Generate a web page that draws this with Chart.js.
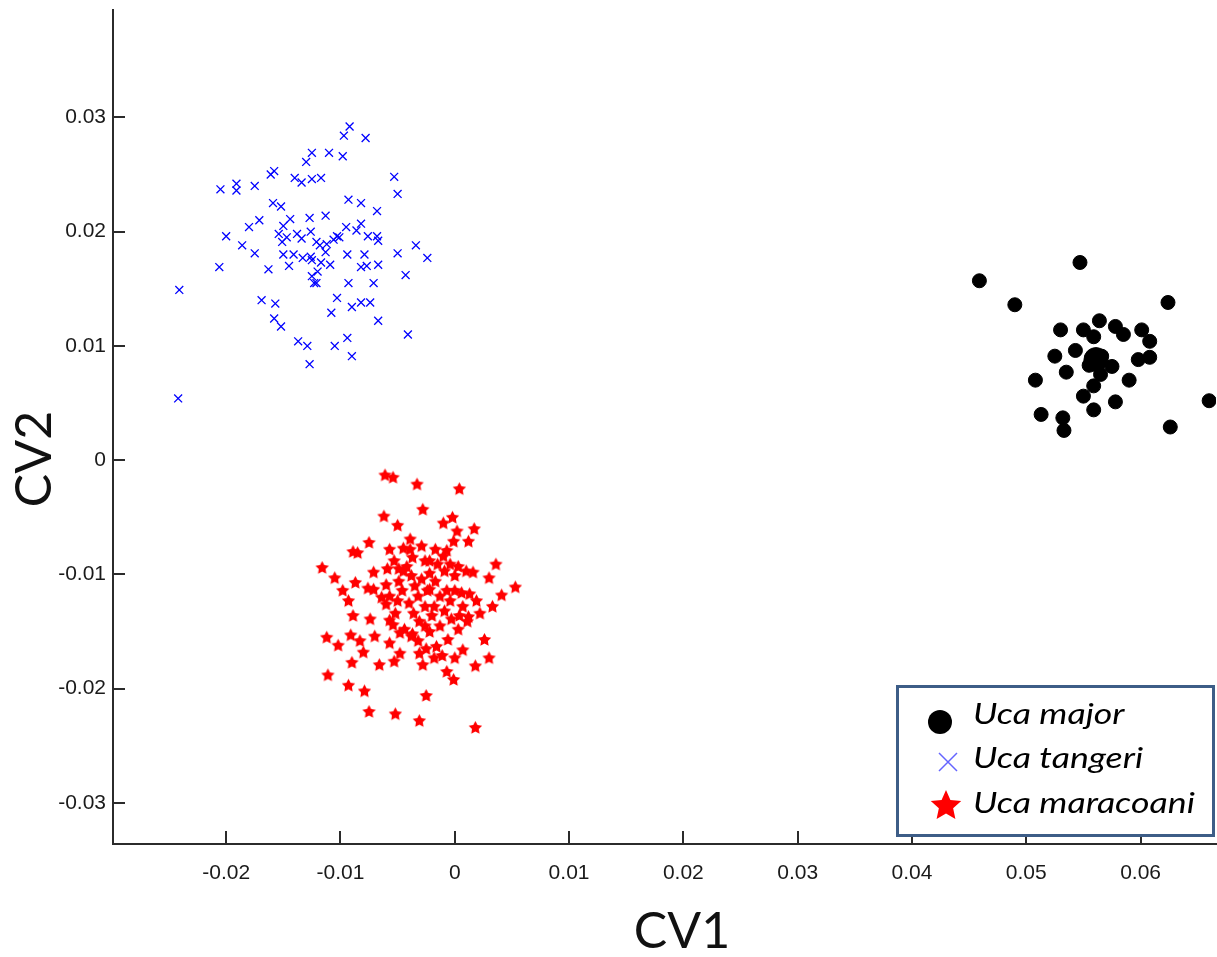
<!DOCTYPE html>
<html><head><meta charset="utf-8">
<script src="https://cdn.jsdelivr.net/npm/chart.js@4/dist/chart.umd.min.js"></script>
<style>html,body{margin:0;padding:0;background:#fff}#wrap{width:1217px;height:957px;position:relative}</style>
</head><body><div id="wrap"><canvas id="c" width="1217" height="957"></canvas></div>
<script>
const seriesNames = ['Uca major', 'Uca tangeri', 'Uca maracoani'];
const xTickValues = [-0.02, -0.01, 0, 0.01, 0.02, 0.03, 0.04, 0.05, 0.06];
const yTickValues = [-0.03, -0.02, -0.01, 0, 0.01, 0.02, 0.03];
const xTitle = 'CV1';
const yTitle = 'CV2';

const ucaMajor = [[0.0459,0.0157],[0.0547,0.0173],[0.0490,0.0136],[0.0624,0.0138],[0.0530,0.0114],[0.0550,0.0114],[0.0564,0.0122],[0.0559,0.0108],[0.0578,0.0117],[0.0585,0.0110],[0.0601,0.0114],[0.0608,0.0104],[0.0525,0.0091],[0.0543,0.0096],[0.0575,0.0082],[0.0598,0.0088],[0.0608,0.0090],[0.0535,0.0077],[0.0565,0.0075],[0.0559,0.0065],[0.0590,0.0070],[0.0508,0.0070],[0.0550,0.0056],[0.0578,0.0051],[0.0559,0.0044],[0.0513,0.0040],[0.0532,0.0037],[0.0533,0.0026],[0.0626,0.0029],[0.0660,0.0052],[0.0566,0.0091],[0.0555,0.0083]];
const ucaMajorMean = [[0.0561,0.0088]];

const ucaTangeri = [[-0.0092,0.0292],[-0.0097,0.0284],[-0.0078,0.0282],[-0.0125,0.0269],[-0.0110,0.0269],[-0.0098,0.0266],[-0.0130,0.0261],[-0.0158,0.0253],[-0.0161,0.0250],[-0.0053,0.0248],[-0.0140,0.0247],[-0.0134,0.0243],[-0.0125,0.0246],[-0.0117,0.0247],[-0.0191,0.0242],[-0.0191,0.0236],[-0.0175,0.0240],[-0.0205,0.0237],[-0.0050,0.0233],[-0.0093,0.0228],[-0.0082,0.0225],[-0.0068,0.0218],[-0.0159,0.0225],[-0.0152,0.0222],[-0.0127,0.0212],[-0.0113,0.0214],[-0.0144,0.0211],[-0.0171,0.0210],[-0.0180,0.0204],[-0.0150,0.0205],[-0.0082,0.0207],[-0.0095,0.0204],[-0.0086,0.0201],[-0.0200,0.0196],[-0.0186,0.0188],[-0.0154,0.0198],[-0.0147,0.0195],[-0.0151,0.0191],[-0.0138,0.0198],[-0.0134,0.0194],[-0.0126,0.0200],[-0.0121,0.0191],[-0.0118,0.0188],[-0.0103,0.0196],[-0.0101,0.0195],[-0.0106,0.0193],[-0.0112,0.0189],[-0.0076,0.0196],[-0.0068,0.0196],[-0.0067,0.0192],[-0.0034,0.0188],[-0.0024,0.0177],[-0.0050,0.0181],[-0.0175,0.0181],[-0.0150,0.0180],[-0.0141,0.0180],[-0.0133,0.0177],[-0.0126,0.0178],[-0.0113,0.0182],[-0.0117,0.0173],[-0.0109,0.0171],[-0.0094,0.0180],[-0.0079,0.0180],[-0.0206,0.0169],[-0.0163,0.0167],[-0.0145,0.0170],[-0.0125,0.0175],[-0.0082,0.0169],[-0.0077,0.0170],[-0.0067,0.0171],[-0.0120,0.0165],[-0.0125,0.0161],[-0.0123,0.0155],[-0.0121,0.0155],[-0.0093,0.0155],[-0.0071,0.0155],[-0.0043,0.0162],[-0.0241,0.0149],[-0.0169,0.0140],[-0.0157,0.0137],[-0.0103,0.0142],[-0.0090,0.0134],[-0.0082,0.0138],[-0.0074,0.0138],[-0.0108,0.0129],[-0.0158,0.0124],[-0.0152,0.0117],[-0.0067,0.0122],[-0.0041,0.0110],[-0.0137,0.0104],[-0.0129,0.0100],[-0.0105,0.0100],[-0.0094,0.0107],[-0.0090,0.0091],[-0.0127,0.0084],[-0.0242,0.0054]];

const ucaMaracoani = [[-0.0061,-0.0013],[-0.0054,-0.0015],[-0.0033,-0.0021],[0.0004,-0.0025],[-0.0028,-0.0043],[-0.0062,-0.0049],[-0.0050,-0.0057],[-0.0010,-0.0055],[-0.0002,-0.0050],[0.0017,-0.0060],[0.0002,-0.0062],[-0.0001,-0.0071],[0.0012,-0.0071],[-0.0075,-0.0072],[-0.0089,-0.0080],[-0.0085,-0.0081],[-0.0039,-0.0069],[-0.0057,-0.0078],[-0.0045,-0.0077],[-0.0116,-0.0094],[-0.0105,-0.0103],[-0.0071,-0.0098],[-0.0049,-0.0095],[0.0036,-0.0091],[0.0030,-0.0103],[0.0053,-0.0111],[0.0041,-0.0118],[0.0033,-0.0128],[0.0022,-0.0134],[0.0012,-0.0137],[0.0019,-0.0123],[0.0010,-0.0097],[0.0016,-0.0098],[-0.0010,-0.0084],[-0.0004,-0.0091],[-0.0022,-0.0088],[-0.0098,-0.0114],[-0.0093,-0.0123],[-0.0089,-0.0136],[-0.0087,-0.0107],[-0.0076,-0.0112],[-0.0071,-0.0113],[-0.0060,-0.0109],[-0.0064,-0.0120],[-0.0060,-0.0126],[-0.0074,-0.0139],[-0.0057,-0.0140],[-0.0112,-0.0155],[-0.0102,-0.0162],[-0.0091,-0.0153],[-0.0083,-0.0158],[-0.0080,-0.0168],[-0.0070,-0.0154],[-0.0090,-0.0177],[-0.0066,-0.0179],[-0.0053,-0.0176],[-0.0111,-0.0188],[-0.0093,-0.0197],[-0.0079,-0.0202],[-0.0075,-0.0220],[-0.0052,-0.0222],[-0.0031,-0.0228],[-0.0025,-0.0206],[0.0018,-0.0234],[0.0026,-0.0157],[0.0030,-0.0173],[0.0018,-0.0180],[0.0007,-0.0166],[0.0000,-0.0173],[-0.0001,-0.0192],[-0.0007,-0.0185],[-0.0018,-0.0173],[-0.0028,-0.0179],[-0.0031,-0.0169],[-0.0048,-0.0169],[-0.0057,-0.0160],[-0.0048,-0.0151],[-0.0037,-0.0152],[-0.0054,-0.0144],[-0.0039,-0.0078],[-0.0037,-0.0085],[-0.0042,-0.0093],[-0.0038,-0.0101],[-0.0035,-0.0110],[-0.0032,-0.0119],[-0.0040,-0.0125],[-0.0036,-0.0134],[-0.0031,-0.0141],[-0.0044,-0.0148],[-0.0038,-0.0154],[-0.0026,-0.0088],[-0.0022,-0.0099],[-0.0017,-0.0106],[-0.0024,-0.0114],[-0.0013,-0.0119],[-0.0007,-0.0114],[0.0000,-0.0114],[0.0006,-0.0116],[0.0013,-0.0117],[-0.0018,-0.0128],[-0.0009,-0.0132],[-0.0003,-0.0139],[-0.0013,-0.0145],[-0.0022,-0.0150],[-0.0006,-0.0157],[0.0003,-0.0148],[0.0007,-0.0128],[0.0000,-0.0101],[-0.0009,-0.0097],[-0.0017,-0.0078],[-0.0007,-0.0079],[-0.0029,-0.0075],[-0.0020,-0.0136],[-0.0026,-0.0128],[-0.0032,-0.0158],[-0.0025,-0.0165],[-0.0016,-0.0163],[-0.0011,-0.0171],[-0.0046,-0.0114],[-0.0050,-0.0123],[-0.0052,-0.0134],[-0.0057,-0.0119],[-0.0049,-0.0106],[-0.0045,-0.0097],[-0.0053,-0.0088],[-0.0059,-0.0095],[-0.0022,-0.0113],[-0.0029,-0.0104],[-0.0004,-0.0123],[0.0004,-0.0136],[0.0011,-0.0141],[0.0003,-0.0093],[-0.0015,-0.0091],[-0.0026,-0.0145]];

const toPts = a => a.map(p => ({x: p[0], y: p[1]}));

function starPath(ctx, cx, cy, R, r) {
  ctx.beginPath();
  for (let i = 0; i < 10; i++) {
    const rad = (i % 2 === 0) ? R : r;
    const ang = -Math.PI / 2 + i * Math.PI / 5;
    const px = cx + rad * Math.cos(ang), py = cy + rad * Math.sin(ang);
    if (i === 0) ctx.moveTo(px, py); else ctx.lineTo(px, py);
  }
  ctx.closePath();
}
const starImg = document.createElement('canvas');
starImg.width = 15; starImg.height = 15;
(function(){ const c = starImg.getContext('2d'); c.fillStyle = '#ff0000'; starPath(c, 7.5, 8, 7, 3.6); c.fill(); })();

const ticksPlugin = {
  id: 'inwardTicks',
  afterDraw(chart) {
    const ctx = chart.ctx, xs = chart.scales.x, ys = chart.scales.y, a = chart.chartArea;
    ctx.save();
    ctx.strokeStyle = '#2b2b2b'; ctx.lineWidth = 2;
    ctx.beginPath();
    xTickValues.forEach(v => { const px = Math.round(xs.getPixelForValue(v)); ctx.moveTo(px, a.bottom); ctx.lineTo(px, a.bottom - 13); });
    yTickValues.forEach(v => { const py = Math.round(ys.getPixelForValue(v)); ctx.moveTo(a.left, py); ctx.lineTo(a.left + 12, py); });
    ctx.stroke();
    ctx.fillStyle = '#111';
    ctx.font = '50px Lato, "Open Sans", sans-serif';
    ctx.textAlign = 'center'; ctx.textBaseline = 'middle';
    ctx.fillText(xTitle, 682, 932);
    ctx.translate(35, 459); ctx.rotate(-Math.PI / 2);
    ctx.fillText(yTitle, 0, 0);
    ctx.restore();
  }
};

const legendPlugin = {
  id: 'boxLegend',
  afterDraw(chart) {
    const ctx = chart.ctx;
    ctx.save();
    ctx.fillStyle = '#fff';
    ctx.fillRect(897, 686, 317, 149);
    ctx.strokeStyle = '#3d5d87'; ctx.lineWidth = 3;
    ctx.strokeRect(897.5, 686.5, 316, 149);
    ctx.fillStyle = '#000';
    ctx.beginPath(); ctx.arc(940, 722, 12, 0, Math.PI * 2); ctx.fill();
    ctx.strokeStyle = '#6464ff'; ctx.lineWidth = 1.5;
    ctx.beginPath(); ctx.moveTo(939, 753); ctx.lineTo(957, 771); ctx.moveTo(957, 753); ctx.lineTo(939, 771); ctx.stroke();
    ctx.fillStyle = '#ff0000';
    starPath(ctx, 946, 806, 16, 7.5); ctx.fill();
    ctx.fillStyle = '#000';
    ctx.font = 'italic 29px Lato, "Open Sans", sans-serif';
    ctx.textAlign = 'left'; ctx.textBaseline = 'alphabetic';
    ctx.translate(973, 0); ctx.scale(1.23, 1);
    ctx.fillText(seriesNames[0], 0, 724);
    ctx.fillText(seriesNames[1], 0, 768);
    ctx.fillText(seriesNames[2], 0, 813);
    ctx.restore();
  }
};

const fmt = v => String(+(+v).toFixed(2));
const tickFont = { family: '"Liberation Sans", Arial, sans-serif', size: 21 };

new Chart(document.getElementById('c'), {
  type: 'scatter',
  data: {
    datasets: [
      { label: seriesNames[1], data: toPts(ucaTangeri), pointStyle: 'crossRot', pointRadius: 5.6, borderColor: '#0000ff', backgroundColor: '#0000ff', borderWidth: 1.3 },
      { label: seriesNames[2], data: toPts(ucaMaracoani), pointStyle: starImg, pointRadius: 6, borderColor: '#ff0000', backgroundColor: '#ff0000' },
      { label: seriesNames[0], data: toPts(ucaMajor), pointStyle: 'circle', pointRadius: 7, borderColor: '#000', backgroundColor: '#000', borderWidth: 1 },
      { label: seriesNames[0] + ' mean', data: toPts(ucaMajorMean), pointStyle: 'circle', pointRadius: 12, borderColor: '#000', backgroundColor: '#000', borderWidth: 1 }
    ]
  },
  options: {
    responsive: false, animation: false, events: [],
    layout: { autoPadding: false, padding: { top: 10, right: 1, left: 0, bottom: 0 } },
    plugins: { legend: { display: false }, tooltip: { enabled: false }, title: { display: false } },
    scales: {
      x: {
        type: 'linear', min: -0.0299, max: 0.0666,
        afterFit(s) { s.height = 113; s.paddingLeft = 0; s.paddingRight = 0; },
        afterBuildTicks(s) { s.ticks = xTickValues.map(v => ({ value: v })); },
        grid: { display: true, drawOnChartArea: false, drawTicks: false },
        border: { display: true, color: '#2b2b2b', width: 2 },
        ticks: { padding: 17, color: '#1a1a1a', font: tickFont, callback: v => fmt(v), maxRotation: 0, autoSkip: false }
      },
      y: {
        type: 'linear', min: -0.0336, max: 0.0394,
        afterFit(s) { s.width = 113; s.paddingTop = 0; s.paddingBottom = 0; },
        afterBuildTicks(s) { s.ticks = yTickValues.map(v => ({ value: v })); },
        grid: { display: true, drawOnChartArea: false, drawTicks: false },
        border: { display: true, color: '#2b2b2b', width: 2 },
        ticks: { padding: 7, color: '#1a1a1a', font: tickFont, callback: v => fmt(v), autoSkip: false }
      }
    }
  },
  plugins: [ticksPlugin, legendPlugin]
});
</script>
</body></html>
